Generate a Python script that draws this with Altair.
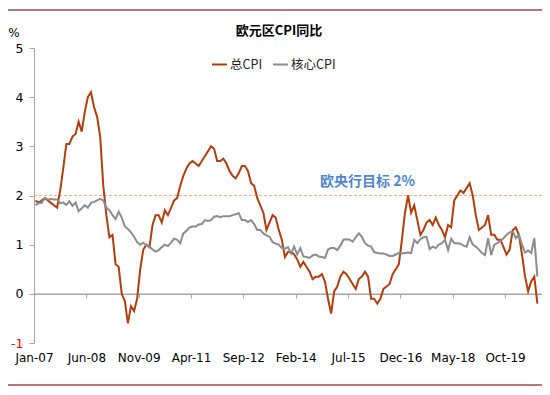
import json
import altair as alt
import pandas as pd

# ---------------- data (monthly, Jan-2007 .. Aug-2020, % YoY) ----------------
HEADLINE = [
    1.9, 1.85, 1.9, 1.95, 1.9, 1.85, 1.8, 1.75, 2.1, 2.55, 3.05, 3.05,   # 2007
    3.2, 3.25, 3.5, 3.3, 3.7, 4.0, 4.1, 3.8, 3.6, 3.2, 2.2, 1.6,         # 2008
    1.15, 1.2, 0.6, 0.55, 0.0, -0.15, -0.6, -0.25, -0.35, -0.1, 0.5, 0.9,  # 2009
    1.0, 0.95, 1.4, 1.6, 1.6, 1.45, 1.7, 1.6, 1.75, 1.9, 1.95, 2.2,      # 2010
    2.4, 2.55, 2.65, 2.7, 2.65, 2.6, 2.7, 2.8, 2.9, 3.0, 2.95, 2.7,      # 2011
    2.7, 2.75, 2.65, 2.5, 2.4, 2.35, 2.45, 2.6, 2.6, 2.5, 2.25, 2.2,     # 2012
    1.95, 1.8, 1.65, 1.3, 1.45, 1.6, 1.55, 1.3, 1.1, 0.75, 0.85, 0.85,   # 2013
    0.8, 0.7, 0.55, 0.65, 0.55, 0.45, 0.3, 0.35, 0.35, 0.4, 0.25, -0.1,  # 2014
    -0.4, 0.05, 0.15, 0.35, 0.45, 0.4, 0.3, 0.2, 0.1, 0.3, 0.35, 0.45,   # 2015
    0.35, -0.1, -0.1, -0.2, -0.1, 0.1, 0.15, 0.2, 0.4, 0.5, 0.6, 1.1,    # 2016
    1.65, 2.0, 1.65, 1.8, 1.5, 1.2, 1.3, 1.45, 1.5, 1.4, 1.55, 1.4,      # 2017
    1.3, 1.15, 1.4, 1.35, 1.9, 2.0, 2.1, 2.05, 2.15, 2.25, 2.0, 1.6,     # 2018
    1.3, 1.35, 1.4, 1.6, 1.2, 1.2, 1.1, 1.1, 0.95, 0.8, 0.9, 1.3,        # 2019
    1.35, 1.2, 0.8, 0.35, 0.05, 0.25, 0.35, -0.2,                        # 2020
]
CORE = [
    1.8, 1.85, 1.85, 1.95, 1.92, 1.93, 1.92, 1.92, 1.84, 1.86, 1.81, 1.88,
    1.79, 1.86, 1.68, 1.74, 1.8, 1.75, 1.85, 1.87, 1.9, 1.93, 1.9, 1.75,
    1.7, 1.6, 1.52, 1.67, 1.55, 1.37, 1.32, 1.25, 1.16, 1.05, 1.0, 1.04,
    0.99, 0.96, 0.9, 0.86, 0.89, 0.95, 1.0, 0.97, 1.04, 1.12, 1.1, 1.03,
    1.23, 1.28, 1.35, 1.37, 1.37, 1.41, 1.42, 1.5, 1.48, 1.5, 1.57, 1.58,
    1.56, 1.58, 1.58, 1.58, 1.6, 1.62, 1.64, 1.5, 1.5, 1.46, 1.5, 1.42,
    1.3, 1.3, 1.23, 1.19, 1.16, 1.05, 1.02, 1.0, 0.93, 0.92, 0.95, 0.82,
    0.96, 0.8, 0.93, 0.76, 0.75, 0.73, 0.78, 0.8, 0.76, 0.75, 0.73, 0.9,
    0.93, 0.93, 0.89, 0.98, 1.1, 1.11, 1.1, 1.06, 1.15, 1.23, 1.16, 1.03,
    0.98, 0.96, 0.85, 0.83, 0.82, 0.82, 0.8, 0.77, 0.77, 0.8, 0.83, 0.82,
    0.83, 0.84, 0.83, 1.1, 1.03, 1.11, 1.15, 1.16, 0.91, 0.96, 0.93, 1.0,
    1.03, 1.1, 0.89, 1.12, 1.03, 1.03, 1.02, 0.98, 0.96, 1.15, 1.0, 0.96,
    0.9, 0.83, 0.79, 1.13, 0.79, 1.0, 1.03, 1.08, 1.13, 1.2, 1.25, 1.27,
    1.13, 1.2, 1.0, 0.84, 0.88, 0.83, 1.13, 0.35,
]
SERIES_NAMES = ["总CPI", "核心CPI"]
SERIES_COLORS = ["#B23E0E", "#8C8C8C"]
TICK_LABELS = ["Jan-07", "Jun-08", "Nov-09", "Apr-11", "Sep-12",
               "Feb-14", "Jul-15", "Dec-16", "May-18", "Oct-19"]
TICK_STEP = 17
Y_TICKS = [-1, 0, 1, 2, 3, 4, 5]
TARGET = 2
TARGET_LABEL = "欧央行目标 2%"
TITLE = "欧元区CPI同比"
UNIT = "%"

# ---------------- table ----------------
rows = []
for i, (h, c) in enumerate(zip(HEADLINE, CORE)):
    rows.append({"m": i + 0.5, "series": SERIES_NAMES[0], "value": h, "order": 0})
    rows.append({"m": i + 0.5, "series": SERIES_NAMES[1], "value": c, "order": 1})
df = pd.DataFrame(rows)

W, H = 508, 295
N_MONTHS = len(HEADLINE) + 1
tick_vals = [k * TICK_STEP for k in range(len(TICK_LABELS))]
label_expr = f"{json.dumps(TICK_LABELS)}[round(datum.value / {TICK_STEP})]"

x_scale = alt.Scale(domain=[0, N_MONTHS], nice=False, zero=False)
y_scale = alt.Scale(domain=[Y_TICKS[0], Y_TICKS[-1]], nice=False)

AXIS_GRAY = "#A6A6A6"

x_axis = alt.Axis(
    values=tick_vals, labelExpr=label_expr, grid=False, title=None,
    domainColor=AXIS_GRAY, domainWidth=1.5, tickColor=AXIS_GRAY, tickSize=4,
    offset=-H / 6, labelPadding=55, labelFont="DejaVu Sans", labelFontSize=12,
    labelColor="#000000", labelFlush=False,
)
y_axis = alt.Axis(
    values=Y_TICKS, grid=False, title=None, labelExpr="'' + datum.value",
    domainColor=AXIS_GRAY, domainWidth=1, tickColor=AXIS_GRAY, tickSize=5,
    labelPadding=6, labelFont="DejaVu Sans", labelFontSize=12.5, labelFlush=False,
    labelColor=alt.condition("datum.value < 0", alt.value("#FF0000"), alt.value("#000000")),
)

base = alt.Chart(df)

lines = base.mark_line(strokeWidth=2).encode(
    x=alt.X("m:Q", scale=x_scale, axis=x_axis),
    y=alt.Y("value:Q", scale=y_scale, axis=y_axis),
    color=alt.Color(
        "series:N",
        scale=alt.Scale(domain=SERIES_NAMES, range=SERIES_COLORS),
        legend=alt.Legend(
            title=None, orient="none", legendX=177, legendY=8,
            direction="horizontal", symbolType="stroke", symbolStrokeWidth=2,
            symbolSize=225, labelFont="Noto Sans CJK SC", labelFontSize=12.5,
            labelColor="#222222", columnPadding=6, labelOffset=2, padding=0,
        ),
    ),
    order=alt.Order("order:Q"),
)

target = alt.Chart(pd.DataFrame({"t": [TARGET]})).mark_rule(
    color="#F4B183", strokeWidth=1, strokeDash=[3, 2]
).encode(y=alt.Y("t:Q", scale=y_scale))

target_text = alt.Chart(pd.DataFrame({"t": [TARGET], "label": [TARGET_LABEL]})).mark_text(
    align="left", baseline="middle", dy=-14, fontSize=14, fontWeight="bold",
    font="Noto Sans CJK SC", color="#4F86CF",
).encode(x=alt.value(286), y=alt.Y("t:Q", scale=y_scale), text="label:N")

unit_text = alt.Chart(pd.DataFrame({"label": [UNIT]})).mark_text(
    align="center", baseline="middle", fontSize=12, font="DejaVu Sans", color="#000000"
).encode(x=alt.value(-20), y=alt.value(-15), text="label:N")

title_text = alt.Chart(pd.DataFrame({"label": [TITLE]})).mark_text(
    align="center", baseline="middle", fontSize=13, font="Noto Sans CJK SC",
    fontWeight="bold", color="#000000",
).encode(x=alt.value(245), y=alt.value(-17), text="label:N")

frame_top = alt.Chart(pd.DataFrame({"k": [0]})).mark_rule(
    color="#A04848", strokeWidth=1.5
).encode(x=alt.value(-26), x2=alt.value(W), y=alt.value(-38))
frame_bottom = alt.Chart(pd.DataFrame({"k": [0]})).mark_rule(
    color="#A04848", strokeWidth=1.5
).encode(x=alt.value(-26), x2=alt.value(W), y=alt.value(337))

chart = alt.layer(
    target, lines, target_text, unit_text, title_text, frame_top, frame_bottom
).properties(
    width=W, height=H,
    padding={"left": 26, "top": 40, "right": 0, "bottom": 44},
    autosize="none",
).configure_view(stroke=None)

chart.save("out.html", embed_options={"renderer": "svg", "actions": False})
